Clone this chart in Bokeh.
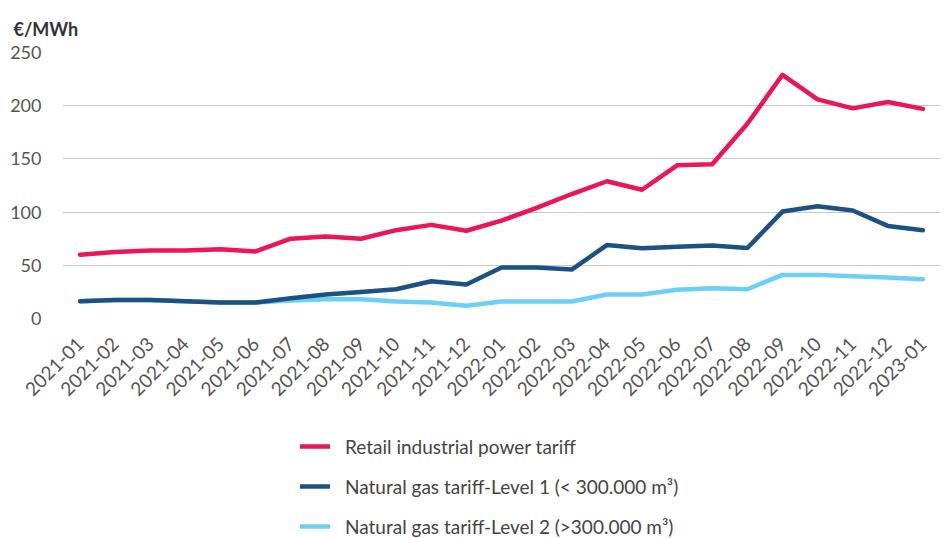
import math
from bokeh.plotting import figure
from bokeh.layouts import column
from bokeh.models import FactorRange, Range1d, FixedTicker, Legend, LegendItem
from bokeh.embed import file_html
from bokeh.resources import INLINE

months = ["2021-01", "2021-02", "2021-03", "2021-04", "2021-05", "2021-06",
          "2021-07", "2021-08", "2021-09", "2021-10", "2021-11", "2021-12",
          "2022-01", "2022-02", "2022-03", "2022-04", "2022-05", "2022-06",
          "2022-07", "2022-08", "2022-09", "2022-10", "2022-11", "2022-12",
          "2023-01"]

power = [60, 62.5, 64, 64, 65, 63, 75, 77, 75, 83, 88, 82.5, 92, 104, 117, 129,
         121, 144, 145, 183, 229, 206, 197.5, 203.5, 197]
gas_l1 = [16.3, 17.5, 17.5, 16.3, 15, 15, 19, 22.5, 25, 27.5, 35, 32, 48, 48,
          46, 69, 66, 67.5, 68.5, 66.3, 100.5, 105.5, 101.5, 87, 83]
gas_l2 = [16.3, 17.5, 17.5, 16.3, 15, 15, 17, 18, 18, 16, 15, 12, 16, 16, 16,
          22.5, 22.5, 27, 28.5, 27.5, 41, 41, 39.7, 38.5, 37]

y_ticks = [0, 50, 100, 150, 200, 250]

series_names = ["Retail industrial power tariff",
                "Natural gas tariff-Level 1 (< 300.000 m³)",
                "Natural gas tariff-Level 2 (>300.000 m³)"]
colors = ["#EC1556", "#1B5283", "#6CCFF6"]

FONT = "Lato"

p = figure(width=946, height=420,
           x_range=FactorRange(*months, range_padding=0),
           y_range=Range1d(0, 250),
           output_backend="svg", toolbar_location=None,
           min_border_left=62, min_border_top=52, min_border_right=6,
           min_border_bottom=102)

p.title.text = "€/MWh"
p.title.text_font = FONT
p.title.text_font_size = "18px"
p.title.text_font_style = "bold"
p.title.text_color = "#333333"
p.title.text_line_height = 1.0
p.title.align = "left"
p.title.offset = -49
p.title.standoff = 26

p.outline_line_color = None
p.xgrid.grid_line_color = None
p.ygrid.grid_line_color = "#C8C8C8"
p.ygrid.grid_line_width = 1.2

p.yaxis.ticker = FixedTicker(ticks=y_ticks)
p.yaxis.axis_line_color = None
p.yaxis.major_tick_line_color = None
p.yaxis.minor_tick_line_color = None
p.yaxis.major_label_text_font = FONT
p.yaxis.major_label_text_font_size = "18px"
p.yaxis.major_label_text_color = "#555555"
p.yaxis.major_label_standoff = 15

p.xaxis.axis_line_color = None
p.xaxis.major_tick_line_color = None
p.xaxis.major_label_orientation = math.pi / 4
p.xaxis.major_label_text_font = FONT
p.xaxis.major_label_text_font_size = "19px"
p.xaxis.major_label_text_color = "#555555"
p.xaxis.major_label_standoff = 16

for vals, col in zip([gas_l2, gas_l1, power], [colors[2], colors[1], colors[0]]):
    p.line(months, vals, line_color=col, line_width=4.5,
           line_cap="round", line_join="round")

# legend panel below the chart (its frame is aligned with the chart's frame)
lg = figure(width=946, height=118, x_range=Range1d(0, 1), y_range=Range1d(0, 1),
            output_backend="svg", toolbar_location=None,
            x_axis_location=None, y_axis_location=None,
            min_border=0, outline_line_color=None)
lg.grid.visible = False
legend_renderers = []
for col in colors:
    legend_renderers.append(lg.line([-2, -1], [-2, -1], line_color=col,
                                    line_width=4.5, line_cap="round"))
legend = Legend(items=[LegendItem(label=name, renderers=[r])
                       for name, r in zip(series_names, legend_renderers)],
                orientation="vertical", location=(238, 0),
                border_line_color=None, background_fill_alpha=0,
                label_text_font=FONT, label_text_font_size="19px",
                label_text_color="#444444", glyph_width=30, glyph_height=24,
                label_standoff=15, spacing=16, label_height=24,
                padding=0, margin=0)
lg.add_layout(legend)

layout = column(p, lg, spacing=0)
open("out.html", "w").write(file_html(layout, INLINE))
